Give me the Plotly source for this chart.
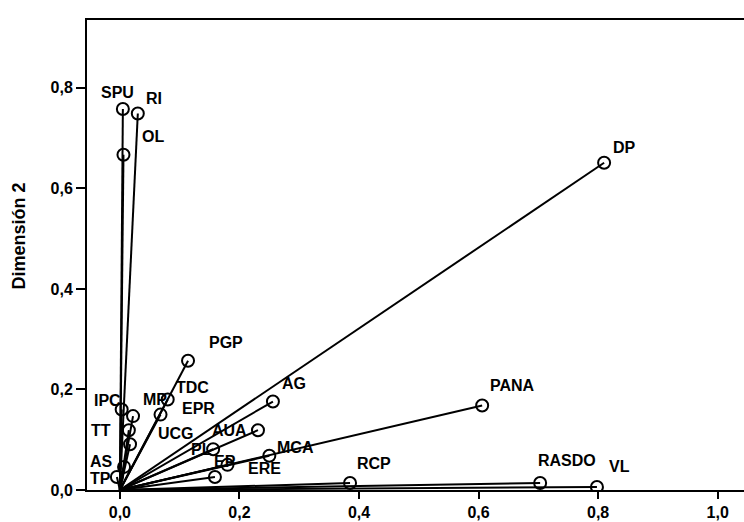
import plotly.graph_objects as go

# Discrimination measures (Dimension 1, Dimension 2)
labels = ["DP", "SPU", "RI", "OL", "PGP", "MP", "IPC", "TDC", "EPR", "TT", "UCG",
          "AS", "TP", "AUA", "AG", "PL", "EP", "ERE", "MCA", "PANA", "RCP", "RASDO", "VL"]
dim1 = [0.810, 0.005, 0.030, 0.006, 0.114, 0.022, 0.003, 0.080, 0.068, 0.015, 0.017,
        0.007, -0.005, 0.231, 0.256, 0.156, 0.180, 0.159, 0.250, 0.606, 0.385, 0.703, 0.798]
dim2 = [0.651, 0.758, 0.749, 0.667, 0.257, 0.147, 0.160, 0.180, 0.150, 0.119, 0.091,
        0.046, 0.026, 0.119, 0.176, 0.081, 0.050, 0.026, 0.068, 0.168, 0.014, 0.014, 0.006]

x_ticks = [0.0, 0.2, 0.4, 0.6, 0.8, 1.0]
y_ticks = [0.0, 0.2, 0.4, 0.6, 0.8]

# label offsets in pixels (style only)
label_shift = {
    "DP": (20, -15), "SPU": (-5, -16), "RI": (16, -15), "OL": (30, -18),
    "PGP": (38, -18), "MP": (22, -17), "IPC": (-14, -9), "TDC": (25, -12),
    "EPR": (38, -6), "TT": (-28, 0), "UCG": (46, -11), "AS": (-23, -5),
    "TP": (-16, 2), "AUA": (-28, 0), "AG": (21, -18), "PL": (-12, 0),
    "EP": (-2, -3), "ERE": (50, -8), "MCA": (26, -8), "PANA": (30, -20),
    "RCP": (24, -19), "RASDO": (27, -22), "VL": (23, -20),
}

lx, ly = [], []
for x, y in zip(dim1, dim2):
    lx += [0, x, None]
    ly += [0, y, None]

fig = go.Figure()
fig.add_trace(go.Scatter(x=lx, y=ly, mode="lines",
                         line=dict(color="black", width=2), hoverinfo="skip",
                         showlegend=False))
fig.add_trace(go.Scatter(x=dim1, y=dim2, mode="markers", text=labels,
                         marker=dict(symbol="circle-open", size=12,
                                     color="black", line=dict(width=2)),
                         showlegend=False))

for name, x, y in zip(labels, dim1, dim2):
    dx, dy = label_shift[name]
    fig.add_annotation(x=x, y=y, text="<b>" + name + "</b>", showarrow=False,
                       xshift=dx, yshift=-dy, xanchor="center", yanchor="middle",
                       font=dict(family="Liberation Sans, Arial", size=16, color="black"))

fig.add_annotation(xref="paper", yref="paper", x=-0.103, y=0.54, text="<b>Dimensión 2</b>",
                   textangle=-90, showarrow=False, xanchor="center", yanchor="middle",
                   font=dict(family="Liberation Sans Narrow, Liberation Sans, Arial", size=18, color="black"))

tick_font = dict(family="Liberation Sans, Arial", size=16, color="black", weight="bold")
fig.update_layout(
    width=744, height=522,
    margin=dict(l=87, r=0, t=20, b=32, autoexpand=False),
    paper_bgcolor="white", plot_bgcolor="white",
    separators=",.",
    xaxis=dict(range=[-0.055, 1.044], tickvals=x_ticks, tickformat=".1f",
               ticks="outside", ticklen=7, tickwidth=2, tickcolor="black",
               showline=True, linewidth=2, linecolor="black", mirror=True,
               showgrid=False, zeroline=False, tickfont=tick_font, automargin=False),
    yaxis=dict(range=[0, 0.935], tickvals=y_ticks, tickformat=".1f",
               ticks="outside", ticklen=9, tickwidth=2, tickcolor="black",
               showline=True, linewidth=2, linecolor="black", mirror=False,
               showgrid=False, zeroline=False, tickfont=tick_font, automargin=False),
)

fig.write_html("out.html")
